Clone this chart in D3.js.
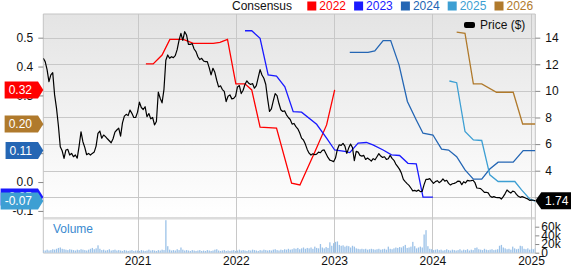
<!DOCTYPE html>
<html>
<head>
<meta charset="utf-8">
<script src="https://cdn.jsdelivr.net/npm/d3@7"></script>
<style>
  body { margin: 0; background: #fff; }
  svg { display: block; font-family: "Liberation Sans", Arial, sans-serif; }
</style>
</head>
<body>
<svg id="chart" width="574" height="265"></svg>
<script>
// weekly closing price ($), first week below
const startDate = "2020-01-17";
const priceWeekly = [
  12.45, 12.2, 11.6, 10.7, 11.2, 11.37, 9.7, 8.7, 7.4, 5.8,
  5.5, 4.93, 5.56, 5.6, 5.18, 5.3, 5.05, 5.18, 4.95, 5.85,
  6.93, 6.18, 5.75, 5.2, 5.3, 5.18, 5.3, 5.4, 5.85, 6.8,
  6.98, 6.44, 6.68, 6.56, 6.4, 6.25, 6.1, 6.4, 6.9, 7.06,
  7.2, 6.6, 7.6, 8.1, 8.24, 8.14, 8.56, 8.31, 8.0, 8.0,
  8.4, 9.15, 8.75, 8.6, 8.81, 8.06, 8.3, 7.9, 8.0, 7.44,
  7.7, 9.9, 9.45, 9.1, 10.1, 12.3, 12.7, 12.45, 12.57, 12.5,
  12.65, 13.1, 13.8, 14.33, 13.8, 14.45, 14.2, 13.5, 13.5, 13.55,
  13.15, 12.95, 12.57, 12.35, 12.45, 12.25, 12.2, 12.2, 11.75, 11.2,
  11.7, 11.4, 10.8, 10.3, 10.38, 10.1, 9.96, 9.19, 9.6, 9.7,
  9.4, 9.44, 9.6, 10.3, 10.4, 9.8, 10.05, 10.5, 10.75, 10.57,
  10.48, 10.55, 10.2, 10.4, 11.0, 11.6, 11.2, 10.95, 10.5, 9.4,
  8.45, 8.65, 9.25, 9.8, 9.65, 9.05, 8.58, 8.45, 8.5, 8.2,
  8.0, 7.85, 7.5, 7.55, 7.31, 7.15, 6.85, 6.45, 6.31, 6.0,
  5.6, 5.32, 5.18, 5.27, 5.2, 5.25, 5.4, 5.35, 5.53, 5.56,
  5.28, 5.0, 4.8, 4.75, 4.68, 4.95, 5.6, 5.95, 5.9, 6.05,
  5.85, 5.3, 5.7, 6.0, 5.75, 4.75, 5.45, 5.4, 5.15, 5.1,
  5.15, 4.85, 4.95, 4.85, 4.72, 4.9, 4.82, 5.05, 5.28, 5.1,
  5.0, 5.05, 4.85, 4.9, 5.15, 4.93, 4.78, 4.5, 4.3, 4.1,
  3.8, 3.35, 3.18, 3.03, 2.9, 2.7, 2.48, 2.52, 2.45, 2.55,
  2.43, 2.45, 2.95, 3.35, 3.35, 3.4, 3.22, 3.05, 3.18, 3.25,
  3.1, 3.2, 3.38, 3.22, 3.28, 3.05, 2.93, 3.02, 3.05, 3.12,
  3.22, 3.2, 2.95, 3.17, 3.08, 3.27, 3.23, 3.25, 3.28, 3.1,
  2.7, 2.68, 2.65, 2.52, 2.37, 2.38, 2.33, 2.1, 2.0, 2.05,
  2.0, 1.98, 1.98, 1.87, 2.05, 2.28, 2.55, 2.42, 2.32, 2.47,
  2.42, 2.22, 2.08, 2.0, 2.05, 2.0, 1.93, 1.88, 1.77, 1.79,
  1.78, 1.74
];
// weekly volume, thousands of shares
const volumeWeekly = [
  6, 5, 7, 5, 6, 8, 7, 9, 11, 12,
  9, 8, 7, 6, 8, 7, 6, 5, 7, 6,
  8, 7, 6, 5, 7, 9, 11, 8, 10, 17,
  9, 6, 7, 5, 6, 8, 5, 6, 7, 5,
  6, 5, 4, 6, 5, 4, 5, 6, 4, 5,
  5, 4, 6, 5, 4, 5, 7, 5, 6, 5,
  4, 6, 5, 7, 6, 75, 15, 7, 5, 6,
  5, 8, 6, 12, 7, 5, 6, 5, 4, 6,
  5, 4, 5, 6, 4, 5, 4, 6, 5, 4,
  5, 7, 8, 5, 4, 5, 6, 4, 5, 4,
  5, 6, 4, 5, 7, 5, 6, 5, 4, 6,
  5, 7, 6, 5, 4, 6, 5, 7, 6, 5,
  6, 5, 7, 8, 6, 5, 7, 6, 8, 7,
  9, 7, 8, 10, 9, 11, 8, 10, 12, 9,
  11, 10, 12, 9, 14, 11, 10, 20, 12, 10,
  13, 11, 24, 16, 22, 25, 26, 18, 16, 17,
  14, 16, 15, 12, 16, 14, 10, 9, 8, 9,
  8, 9, 7, 8, 9, 8, 7, 8, 9, 7,
  8, 9, 7, 14, 9, 8, 10, 12, 11, 13,
  12, 15, 18, 11, 12, 14, 25, 15, 10, 12,
  14, 12, 42, 52, 15, 9, 8, 6, 7, 8,
  6, 7, 5, 6, 8, 6, 5, 7, 6, 5,
  6, 8, 5, 7, 6, 8, 5, 7, 6, 11,
  12, 8, 7, 6, 9, 7, 6, 7, 8, 6,
  7, 8, 16, 18, 12, 10, 8, 9, 7, 14,
  10, 8, 9, 16, 15, 9, 8, 10, 7, 9,
  8, 10
];

// consensus EPS estimates by fiscal year
const eps2022 = [
  ["2021-02-01", 0.409], ["2021-02-28", 0.409], ["2021-04-02", 0.44], ["2021-05-01", 0.494],
  ["2021-06-20", 0.494], ["2021-07-27", 0.48], ["2021-10-09", 0.48], ["2021-11-03", 0.484],
  ["2021-12-01", 0.494], ["2022-01-01", 0.34], ["2022-02-04", 0.34], ["2022-03-01", 0.319],
  ["2022-04-01", 0.19], ["2022-06-01", 0.187], ["2022-07-27", -0.004], ["2022-08-27", -0.01],
  ["2022-10-22", 0.106], ["2022-12-04", 0.198], ["2023-01-03", 0.319]
];
const eps2023 = [
  ["2022-02-04", 0.524], ["2022-03-01", 0.524], ["2022-04-01", 0.498], ["2022-05-01", 0.371],
  ["2022-06-01", 0.367], ["2022-07-02", 0.33], ["2022-08-02", 0.244], ["2022-09-02", 0.242],
  ["2022-10-28", 0.2], ["2022-12-04", 0.152], ["2023-01-03", 0.111], ["2023-02-09", 0.106],
  ["2023-02-28", 0.102], ["2023-03-31", 0.135], ["2023-05-01", 0.137], ["2023-05-25", 0.129],
  ["2023-07-02", 0.111], ["2023-08-02", 0.094], ["2023-09-01", 0.092], ["2023-10-02", 0.065],
  ["2023-11-02", 0.063], ["2023-11-27", -0.052], ["2024-01-03", -0.052]
];
const eps2024 = [
  ["2023-02-28", 0.449], ["2023-05-07", 0.449], ["2023-06-01", 0.454], ["2023-07-02", 0.49],
  ["2023-07-30", 0.49], ["2023-08-30", 0.406], ["2023-09-30", 0.279], ["2023-11-02", 0.215],
  ["2023-11-27", 0.169], ["2024-01-03", 0.163], ["2024-02-04", 0.114], ["2024-03-01", 0.111],
  ["2024-03-31", 0.088], ["2024-05-01", 0.042], ["2024-06-01", 0.01], ["2024-07-02", 0.01],
  ["2024-08-01", 0.045], ["2024-09-01", 0.069], ["2024-10-27", 0.069], ["2024-12-03", 0.109],
  ["2025-01-17", 0.109]
];
const eps2025 = [
  ["2024-03-04", 0.35], ["2024-03-31", 0.344], ["2024-05-01", 0.175], ["2024-06-01", 0.146],
  ["2024-07-02", 0.144], ["2024-08-01", 0.025], ["2024-09-01", 0.002], ["2024-11-02", 0.002],
  ["2024-11-27", -0.027], ["2024-12-28", -0.059], ["2025-01-17", -0.066]
];
const eps2026 = [
  ["2024-03-31", 0.519], ["2024-05-01", 0.515], ["2024-06-01", 0.34], ["2024-07-02", 0.34],
  ["2024-08-26", 0.311], ["2024-10-27", 0.311], ["2024-12-01", 0.201], ["2025-01-17", 0.201]
];

const seriesNames = ["2022", "2023", "2024", "2025", "2026"];
const yearTicks = ["2021", "2022", "2023", "2024", "2025"];
const priceTicks = [2, 4, 6, 8, 10, 12, 14];
const epsTicks = [-0.1, 0, 0.1, 0.2, 0.3, 0.4, 0.5];
const volumeTicks = [0, 20, 40, 60];
const volumeTickLabels = ["0", "20k", "40k", "60k"];

const colors = ["#ff0000", "#1a1aff", "#2466b4", "#3d9fd3", "#b07a2c"];

const parseDate = d3.timeParse("%Y-%m-%d");
const start = parseDate(startDate);
const weeks = priceWeekly.map((p, i) => d3.timeWeek.offset(start, i));
const epsSeries = [eps2022, eps2023, eps2024, eps2025, eps2026]
  .map(s => s.map(([d, v]) => ({ date: parseDate(d), eps: v })));

// layout
const left = 43.3, right = 535.3;
const priceTop = 14, priceBottom = 217;
const volTop = 219.5, volBottom = 253;

const x = d3.scaleTime().domain([weeks[0], weeks[weeks.length - 1]]).range([left, right]);
const yPrice = d3.scaleLinear().domain([0.52, 15.78]).range([priceBottom, priceTop]);
const yEps = d3.scaleLinear().domain([-0.121, 0.582]).range([priceBottom, priceTop]);
const yVol = d3.scaleLinear().domain([0, 60]).range([252.7, 226.7]);

const svg = d3.select("#chart");
const defs = svg.append("defs");
const grad = defs.append("linearGradient").attr("id", "bg").attr("x1", 0).attr("y1", 0).attr("x2", 0).attr("y2", 1);
grad.append("stop").attr("offset", 0).attr("stop-color", "#e4e4e4");
grad.append("stop").attr("offset", 1).attr("stop-color", "#ffffff");
defs.append("clipPath").attr("id", "clipPrice").append("rect")
  .attr("x", left).attr("y", priceTop).attr("width", right - left).attr("height", priceBottom - priceTop);
defs.append("clipPath").attr("id", "clipVol").append("rect")
  .attr("x", left).attr("y", volTop).attr("width", right - left).attr("height", volBottom - volTop);

// panels
svg.append("rect").attr("x", left).attr("y", priceTop)
  .attr("width", right - left).attr("height", priceBottom - priceTop).attr("fill", "url(#bg)");
svg.append("rect").attr("x", left).attr("y", priceBottom)
  .attr("width", right - left).attr("height", volTop - priceBottom).attr("fill", "#dcdcdc");

// grid
const yearDates = yearTicks.map(y => parseDate(y + "-01-01"));
svg.append("g").selectAll("line").data(priceTicks).join("line")
  .attr("x1", left).attr("x2", right)
  .attr("y1", d => Math.round(yPrice(d)) + 0.5).attr("y2", d => Math.round(yPrice(d)) + 0.5)
  .attr("stroke", "#c8c8c8");
svg.append("g").selectAll("line").data(yearDates).join("line")
  .attr("x1", d => Math.round(x(d)) + 0.5).attr("x2", d => Math.round(x(d)) + 0.5)
  .attr("y1", priceTop).attr("y2", volBottom)
  .attr("stroke", "#c8c8c8");

// frame
svg.append("path")
  .attr("d", `M${left},${volBottom}V${priceTop}H${right}V${volBottom}H${left}`)
  .attr("fill", "none").attr("stroke", "#c4c4c4");

// volume bars
svg.append("g").attr("clip-path", "url(#clipVol)")
  .selectAll("rect").data(volumeWeekly).join("rect")
  .attr("x", (d, i) => x(weeks[i]) - 0.6)
  .attr("width", 1.3)
  .attr("y", d => yVol(d))
  .attr("height", d => yVol(0) - yVol(d))
  .attr("fill", "#9cc2e8");

svg.append("text").attr("x", 53).attr("y", 233).attr("font-size", 12)
  .attr("fill", "#3a8ad0").text("Volume");

// EPS lines
const epsLine = d3.line().x(d => x(d.date)).y(d => yEps(d.eps));
const lines = svg.append("g").attr("clip-path", "url(#clipPrice)");
epsSeries.forEach((s, i) => {
  lines.append("path").datum(s).attr("d", epsLine)
    .attr("fill", "none").attr("stroke", colors[i]).attr("stroke-width", 1.3);
});

// price line
const priceLine = d3.line().x((d, i) => x(weeks[i])).y(d => yPrice(d));
lines.append("path").datum(priceWeekly).attr("d", priceLine)
  .attr("fill", "none").attr("stroke", "#000").attr("stroke-width", 1.2)
  .attr("stroke-linejoin", "round");

// axes
function styleAxis(g) {
  g.select(".domain").remove();
  g.selectAll(".tick line").attr("stroke", "#888");
  g.selectAll(".tick text").attr("fill", "#111");
  g.attr("font-size", 12).attr("font-family", null);
}
svg.append("g").attr("transform", `translate(${left},0)`)
  .call(d3.axisLeft(yEps).tickValues(epsTicks).tickFormat(d => d.toFixed(1)).tickSize(5).tickPadding(5))
  .call(styleAxis);
svg.append("g").attr("transform", `translate(${right},0)`)
  .call(d3.axisRight(yPrice).tickValues(priceTicks).tickSize(5).tickPadding(5))
  .call(styleAxis);
svg.append("g").attr("transform", `translate(${right},0)`)
  .call(d3.axisRight(yVol).tickValues(volumeTicks).tickFormat((d, i) => volumeTickLabels[i]).tickSize(4).tickPadding(2))
  .call(styleAxis);
svg.append("g").attr("transform", `translate(0,${volBottom})`)
  .call(d3.axisBottom(x).tickValues(yearDates).tickFormat(d3.timeFormat("%Y")).tickSize(0).tickPadding(3.5))
  .call(styleAxis);

// last-value tags on the left
const tagH = 17;
epsSeries.forEach((s, i) => {
  const last = s[s.length - 1].eps;
  const cy = yEps(last);
  const g = svg.append("g");
  const path = g.append("path").attr("fill", colors[i]);
  const t = g.append("text").attr("x", 32).attr("y", cy).attr("dy", "0.35em")
    .attr("text-anchor", "end").attr("font-size", 12).attr("fill", "#fff")
    .text(last.toFixed(2));
  const w = t.node().getComputedTextLength();
  const x0 = 32 - w - 4;
  path.attr("d", `M${x0},${cy - tagH / 2}H38L${left},${cy}L38,${cy + tagH / 2}H${x0}Z`);
});

// last price tag on the right
const lastPrice = priceWeekly[priceWeekly.length - 1];
const py = yPrice(lastPrice);
svg.append("path")
  .attr("d", `M${right},${py}L${right + 6},${py - tagH / 2}H571V${py + tagH / 2}H${right + 6}Z`)
  .attr("fill", "#000");
svg.append("text").attr("x", 545).attr("y", py).attr("dy", "0.35em")
  .attr("font-size", 12).attr("fill", "#fff").text(lastPrice.toFixed(2));

// legends
svg.append("text").attr("x", 232).attr("y", 10).attr("font-size", 12).attr("fill", "#111").text("Consensus");
const leg = svg.append("g").selectAll("g").data(seriesNames).join("g")
  .attr("transform", (d, i) => `translate(${307.3 + i * 46.8},0)`);
leg.append("rect").attr("x", 0).attr("y", 1.5).attr("width", 9).attr("height", 9)
  .attr("fill", (d, i) => colors[i]);
leg.append("text").attr("x", 12).attr("y", 10).attr("font-size", 12)
  .attr("fill", (d, i) => colors[i]).text(d => d);

svg.append("rect").attr("x", 464).attr("y", 22).attr("width", 11).attr("height", 6)
  .attr("rx", 2).attr("fill", "#000");
svg.append("text").attr("x", 480).attr("y", 29).attr("font-size", 12).attr("fill", "#111").text("Price ($)");
</script>
</body>
</html>
